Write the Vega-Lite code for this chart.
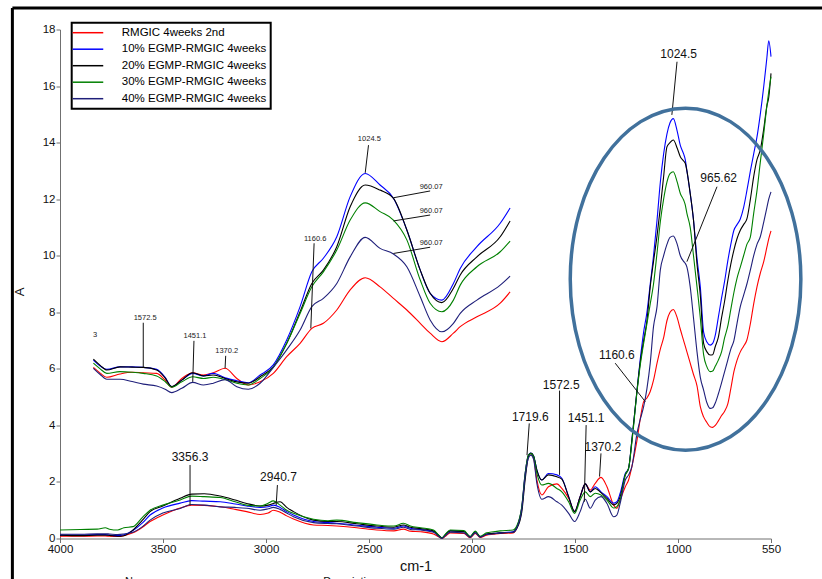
{
  "$schema": "https://vega.github.io/schema/vega-lite/v6.json",
  "width": 711,
  "height": 509,
  "autosize": {"type": "none"},
  "padding": {"left": 60, "top": 29.5, "right": 51, "bottom": 40.5},
  "background": "white",
  "config": {
    "view": {"stroke": null},
    "axis": {"grid": false, "labelFont": "Liberation Sans", "labelFontSize": 11.5, "labelColor": "#111", "domainColor": "#707070", "tickColor": "#707070", "tickSize": 4, "titleFont": "Liberation Sans", "titleFontWeight": "normal", "titleColor": "#111", "labelPadding": 1},
    "legend": {"strokeWidth": 2}
  },
  "datasets": {
    "main": [
      {"w":4000,"r":0.08,"b":0.12,"k":0.12,"g":0.30,"n":0.15},
      {"w":3900,"r":0.08,"b":0.12,"k":0.10,"g":0.32,"n":0.15},
      {"w":3820,"r":0.09,"b":0.14,"k":0.12,"g":0.33,"n":0.17},
      {"w":3780,"r":0.09,"b":0.14,"k":0.12,"g":0.38,"n":0.17},
      {"w":3760,"r":0.08,"b":0.12,"k":0.11,"g":0.33,"n":0.16},
      {"w":3720,"r":0.07,"b":0.10,"k":0.08,"g":0.30,"n":0.14},
      {"w":3690,"r":0.10,"b":0.13,"k":0.10,"g":0.38,"n":0.16},
      {"w":3646,"r":0.20,"b":0.28,"k":0.30,"g":0.42,"n":0.22},
      {"w":3600,"r":0.40,"b":0.55,"k":0.65,"g":0.75,"n":0.42},
      {"w":3563,"r":0.60,"b":0.83,"k":0.95,"g":1.00,"n":0.65},
      {"w":3501,"r":0.83,"b":1.08,"k":1.15,"g":1.18,"n":0.90},
      {"w":3417,"r":1.08,"b":1.25,"k":1.42,"g":1.36,"n":1.06},
      {"w":3361,"r":1.18,"b":1.34,"k":1.57,"g":1.50,"n":1.20},
      {"w":3300,"r":1.17,"b":1.32,"k":1.58,"g":1.48,"n":1.18},
      {"w":3223,"r":1.12,"b":1.30,"k":1.50,"g":1.45,"n":1.12},
      {"w":3150,"r":1.03,"b":1.22,"k":1.36,"g":1.30,"n":1.10},
      {"w":3094,"r":0.95,"b":1.15,"k":1.24,"g":1.18,"n":1.07},
      {"w":3029,"r":0.85,"b":1.10,"k":1.15,"g":1.15,"n":1.00},
      {"w":2990,"r":0.90,"b":1.12,"k":1.18,"g":1.25,"n":1.05},
      {"w":2965,"r":1.00,"b":1.18,"k":1.24,"g":1.33,"n":1.10},
      {"w":2932,"r":0.93,"b":1.10,"k":1.30,"g":1.18,"n":1.03},
      {"w":2900,"r":0.80,"b":0.95,"k":1.10,"g":1.00,"n":0.90},
      {"w":2867,"r":0.69,"b":0.83,"k":0.95,"g":0.89,"n":0.77},
      {"w":2770,"r":0.48,"b":0.60,"k":0.65,"g":0.68,"n":0.56},
      {"w":2700,"r":0.46,"b":0.56,"k":0.60,"g":0.63,"n":0.53},
      {"w":2657,"r":0.44,"b":0.54,"k":0.60,"g":0.65,"n":0.52},
      {"w":2560,"r":0.38,"b":0.47,"k":0.52,"g":0.56,"n":0.44},
      {"w":2463,"r":0.30,"b":0.40,"k":0.44,"g":0.48,"n":0.36},
      {"w":2380,"r":0.27,"b":0.36,"k":0.40,"g":0.44,"n":0.33},
      {"w":2333,"r":0.33,"b":0.44,"k":0.48,"g":0.54,"n":0.40},
      {"w":2300,"r":0.26,"b":0.36,"k":0.40,"g":0.44,"n":0.32},
      {"w":2250,"r":0.24,"b":0.32,"k":0.35,"g":0.38,"n":0.30},
      {"w":2188,"r":0.16,"b":0.25,"k":0.27,"g":0.30,"n":0.22},
      {"w":2160,"r":0.05,"b":0.08,"k":0.10,"g":0.10,"n":0.06},
      {"w":2147,"r":0.00,"b":0.02,"k":0.02,"g":0.02,"n":0.00},
      {"w":2130,"r":0.08,"b":0.12,"k":0.14,"g":0.15,"n":0.10},
      {"w":2107,"r":0.20,"b":0.27,"k":0.27,"g":0.30,"n":0.22},
      {"w":2040,"r":0.18,"b":0.25,"k":0.25,"g":0.28,"n":0.20},
      {"w":2010,"r":0.03,"b":0.06,"k":0.06,"g":0.07,"n":0.04},
      {"w":1985,"r":0.18,"b":0.24,"k":0.24,"g":0.26,"n":0.20},
      {"w":1961,"r":0.04,"b":0.06,"k":0.06,"g":0.08,"n":0.05},
      {"w":1930,"r":0.12,"b":0.16,"k":0.16,"g":0.20,"n":0.14},
      {"w":1897,"r":0.15,"b":0.18,"k":0.18,"g":0.24,"n":0.16},
      {"w":1864,"r":0.18,"b":0.20,"k":0.20,"g":0.27,"n":0.20},
      {"w":1801,"r":0.20,"b":0.24,"k":0.22,"g":0.30,"n":0.22},
      {"w":1783,"r":0.40,"b":0.42,"k":0.36,"g":0.45,"n":0.38},
      {"w":1759,"r":1.10,"b":1.12,"k":0.95,"g":1.15,"n":1.05},
      {"w":1743,"r":2.25,"b":2.30,"k":2.07,"g":2.30,"n":2.20},
      {"w":1727,"r":2.95,"b":2.95,"k":2.90,"g":2.95,"n":2.85},
      {"w":1715,"r":3.00,"b":3.02,"k":3.02,"g":3.00,"n":2.95},
      {"w":1702,"r":2.85,"b":2.92,"k":2.92,"g":2.90,"n":2.80},
      {"w":1686,"r":2.07,"b":2.42,"k":2.42,"g":2.30,"n":1.95},
      {"w":1662,"r":1.54,"b":2.07,"k":2.07,"g":1.89,"n":1.39},
      {"w":1630,"r":1.83,"b":2.30,"k":2.25,"g":1.95,"n":1.48},
      {"w":1589,"r":1.93,"b":2.25,"k":2.18,"g":1.77,"n":1.30},
      {"w":1565,"r":1.77,"b":2.13,"k":2.10,"g":1.65,"n":1.18},
      {"w":1532,"r":1.42,"b":1.48,"k":1.48,"g":1.30,"n":0.89},
      {"w":1503,"r":0.95,"b":0.95,"k":0.95,"g":0.89,"n":0.60},
      {"w":1476,"r":1.48,"b":1.48,"k":1.48,"g":1.36,"n":0.95},
      {"w":1451,"r":1.93,"b":1.93,"k":1.93,"g":1.65,"n":1.39},
      {"w":1427,"r":1.71,"b":1.65,"k":1.65,"g":1.48,"n":1.07},
      {"w":1403,"r":1.95,"b":1.83,"k":1.77,"g":1.60,"n":1.36},
      {"w":1375,"r":2.16,"b":1.65,"k":1.62,"g":1.54,"n":1.48},
      {"w":1346,"r":1.83,"b":1.48,"k":1.42,"g":1.36,"n":1.24},
      {"w":1314,"r":1.19,"b":1.25,"k":1.19,"g":1.08,"n":0.77},
      {"w":1298,"r":1.07,"b":1.30,"k":1.24,"g":1.13,"n":0.83},
      {"w":1282,"r":1.36,"b":1.60,"k":1.48,"g":1.36,"n":1.24},
      {"w":1257,"r":1.83,"b":2.30,"k":2.25,"g":2.25,"n":2.07},
      {"w":1241,"r":2.07,"b":2.48,"k":2.48,"g":2.48,"n":2.25},
      {"w":1225,"r":2.54,"b":3.48,"k":3.48,"g":3.40,"n":2.54},
      {"w":1200,"r":3.48,"b":5.25,"k":5.25,"g":5.20,"n":3.73},
      {"w":1185,"r":4.20,"b":6.30,"k":6.20,"g":6.10,"n":4.20},
      {"w":1168,"r":4.84,"b":7.30,"k":7.00,"g":6.90,"n":4.66},
      {"w":1152,"r":4.97,"b":8.00,"k":7.70,"g":7.60,"n":5.30},
      {"w":1136,"r":5.20,"b":9.00,"k":8.90,"g":8.30,"n":6.20},
      {"w":1120,"r":5.60,"b":10.00,"k":9.80,"g":9.00,"n":7.50},
      {"w":1103,"r":6.20,"b":11.26,"k":10.70,"g":10.10,"n":8.20},
      {"w":1087,"r":6.70,"b":12.60,"k":11.70,"g":11.20,"n":9.50},
      {"w":1071,"r":7.10,"b":13.60,"k":12.80,"g":12.00,"n":10.00},
      {"w":1055,"r":7.70,"b":14.30,"k":13.85,"g":12.60,"n":10.40},
      {"w":1040,"r":8.00,"b":14.70,"k":14.00,"g":12.90,"n":10.65},
      {"w":1024,"r":8.10,"b":14.85,"k":14.09,"g":12.97,"n":10.70},
      {"w":1005,"r":7.80,"b":14.40,"k":13.80,"g":12.60,"n":10.40},
      {"w":990,"r":7.40,"b":13.90,"k":13.50,"g":12.20,"n":10.00},
      {"w":974,"r":7.00,"b":13.60,"k":13.35,"g":11.97,"n":9.80},
      {"w":966,"r":6.80,"b":13.40,"k":13.27,"g":11.80,"n":9.73},
      {"w":958,"r":6.60,"b":13.00,"k":13.00,"g":11.50,"n":9.60},
      {"w":942,"r":6.20,"b":12.20,"k":12.20,"g":11.00,"n":8.90},
      {"w":926,"r":5.80,"b":11.26,"k":11.26,"g":10.00,"n":7.80},
      {"w":909,"r":5.40,"b":9.90,"k":9.70,"g":8.90,"n":6.60},
      {"w":893,"r":4.66,"b":8.90,"k":8.60,"g":7.80,"n":5.70},
      {"w":877,"r":4.30,"b":7.30,"k":6.90,"g":6.50,"n":5.25},
      {"w":861,"r":4.10,"b":6.95,"k":6.60,"g":6.07,"n":4.80},
      {"w":845,"r":3.95,"b":6.84,"k":6.49,"g":5.90,"n":4.60},
      {"w":833,"r":3.93,"b":6.90,"k":6.50,"g":5.92,"n":4.62},
      {"w":820,"r":4.00,"b":7.20,"k":6.80,"g":6.10,"n":4.80},
      {"w":806,"r":4.15,"b":7.80,"k":7.10,"g":6.30,"n":5.10},
      {"w":790,"r":4.35,"b":8.50,"k":7.80,"g":6.60,"n":5.50},
      {"w":775,"r":4.50,"b":9.10,"k":8.40,"g":7.10,"n":5.90},
      {"w":760,"r":4.75,"b":9.80,"k":9.10,"g":7.50,"n":6.30},
      {"w":745,"r":5.30,"b":10.40,"k":9.70,"g":8.10,"n":6.70},
      {"w":730,"r":5.90,"b":10.90,"k":10.20,"g":8.70,"n":7.00},
      {"w":715,"r":6.30,"b":11.10,"k":10.60,"g":9.20,"n":7.60},
      {"w":699,"r":6.60,"b":11.30,"k":10.90,"g":9.60,"n":8.20},
      {"w":683,"r":6.80,"b":11.70,"k":11.10,"g":10.00,"n":8.60},
      {"w":667,"r":7.02,"b":12.30,"k":11.30,"g":10.40,"n":9.00},
      {"w":650,"r":7.60,"b":13.00,"k":12.00,"g":10.67,"n":9.50},
      {"w":634,"r":8.30,"b":13.60,"k":12.80,"g":11.50,"n":10.00},
      {"w":618,"r":8.90,"b":14.20,"k":13.40,"g":12.30,"n":10.40},
      {"w":602,"r":9.38,"b":15.00,"k":13.74,"g":13.30,"n":10.67},
      {"w":585,"r":9.80,"b":16.00,"k":14.50,"g":14.33,"n":11.20},
      {"w":570,"r":10.30,"b":17.00,"k":15.30,"g":15.30,"n":11.70},
      {"w":561,"r":10.60,"b":17.60,"k":15.60,"g":15.80,"n":12.00},
      {"w":550,"r":10.88,"b":17.04,"k":16.45,"g":16.33,"n":12.26}
    ],
    "inset": [
      {"w":3838,"r":6.05,"b":6.31,"k":6.34,"g":6.20,"n":6.02},
      {"w":3805,"r":5.85,"b":6.10,"k":6.12,"g":6.00,"n":5.80},
      {"w":3773,"r":5.70,"b":5.98,"k":5.96,"g":5.84,"n":5.63},
      {"w":3709,"r":5.82,"b":6.07,"k":6.07,"g":5.90,"n":5.63},
      {"w":3650,"r":5.88,"b":6.07,"k":6.06,"g":5.88,"n":5.55},
      {"w":3596,"r":5.86,"b":6.05,"k":6.05,"g":5.84,"n":5.46},
      {"w":3531,"r":5.84,"b":5.98,"k":5.96,"g":5.75,"n":5.39},
      {"w":3490,"r":5.60,"b":5.70,"k":5.68,"g":5.55,"n":5.28},
      {"w":3458,"r":5.35,"b":5.37,"k":5.37,"g":5.35,"n":5.16},
      {"w":3409,"r":5.66,"b":5.60,"k":5.60,"g":5.54,"n":5.31},
      {"w":3356,"r":5.86,"b":5.84,"k":5.86,"g":5.72,"n":5.52},
      {"w":3304,"r":5.78,"b":5.75,"k":5.75,"g":5.66,"n":5.43},
      {"w":3256,"r":5.86,"b":5.84,"k":5.78,"g":5.70,"n":5.49},
      {"w":3199,"r":6.02,"b":5.68,"k":5.66,"g":5.62,"n":5.62},
      {"w":3142,"r":5.66,"b":5.58,"k":5.54,"g":5.49,"n":5.37},
      {"w":3086,"r":5.43,"b":5.51,"k":5.49,"g":5.43,"n":5.28},
      {"w":3029,"r":5.54,"b":5.78,"k":5.72,"g":5.66,"n":5.49},
      {"w":2965,"r":5.84,"b":6.14,"k":6.07,"g":6.05,"n":6.05},
      {"w":2900,"r":6.43,"b":7.02,"k":6.90,"g":6.90,"n":6.67},
      {"w":2835,"r":6.90,"b":8.20,"k":8.02,"g":7.96,"n":7.37},
      {"w":2778,"r":7.43,"b":9.43,"k":9.02,"g":8.90,"n":8.20},
      {"w":2722,"r":7.61,"b":9.91,"k":9.49,"g":9.43,"n":8.49},
      {"w":2657,"r":8.08,"b":10.67,"k":10.32,"g":10.20,"n":9.02},
      {"w":2592,"r":8.79,"b":12.09,"k":11.73,"g":11.26,"n":9.96},
      {"w":2519,"r":9.22,"b":12.91,"k":12.50,"g":11.87,"n":10.65},
      {"w":2447,"r":8.90,"b":12.50,"k":12.32,"g":11.56,"n":10.26},
      {"w":2382,"r":8.49,"b":12.03,"k":12.03,"g":11.26,"n":10.06},
      {"w":2317,"r":8.08,"b":10.91,"k":10.91,"g":10.56,"n":9.61},
      {"w":2252,"r":7.61,"b":9.49,"k":9.49,"g":9.14,"n":8.55},
      {"w":2204,"r":7.26,"b":8.67,"k":8.67,"g":8.32,"n":7.73},
      {"w":2147,"r":6.96,"b":8.43,"k":8.34,"g":8.02,"n":7.31},
      {"w":2091,"r":7.26,"b":9.02,"k":8.85,"g":8.43,"n":7.61},
      {"w":2058,"r":7.49,"b":9.55,"k":9.32,"g":8.96,"n":7.96},
      {"w":1977,"r":7.84,"b":10.32,"k":9.96,"g":9.61,"n":8.43},
      {"w":1864,"r":8.32,"b":11.15,"k":10.67,"g":10.14,"n":8.96},
      {"w":1816,"r":8.72,"b":11.69,"k":11.23,"g":10.52,"n":9.28}
    ],
    "mainLabels": [
      {"w":3369,"a":2.89,"t":"3356.3"},
      {"w":2940,"a":2.19,"t":"2940.7"},
      {"w":1718,"a":4.30,"t":"1719.6"},
      {"w":1568,"a":5.43,"t":"1572.5"},
      {"w":1447,"a":4.25,"t":"1451.1"},
      {"w":1366,"a":3.25,"t":"1370.2"},
      {"w":1298,"a":6.49,"t":"1160.6"},
      {"w":998,"a":17.12,"t":"1024.5"},
      {"w":804,"a":12.74,"t":"965.62"}
    ],
    "insetLabels": [
      {"w":2499,"a":14.13,"t":"1024.5"},
      {"w":2199,"a":12.42,"t":"960.07"},
      {"w":2199,"a":11.58,"t":"960.07"},
      {"w":2199,"a":10.44,"t":"960.07"},
      {"w":2762,"a":10.58,"t":"1160.6"},
      {"w":3587,"a":7.79,"t":"1572.5"},
      {"w":3345,"a":7.16,"t":"1451.1"},
      {"w":3191,"a":6.63,"t":"1370.2"},
      {"w":3830,"a":7.20,"t":"3"}
    ],
    "leaders": [
      {"w":3369,"w2":3369,"a":2.60,"a2":1.18},
      {"w":2945,"w2":2951,"a":1.89,"a2":1.18},
      {"w":1723,"w2":1734,"a":4.07,"a2":2.95},
      {"w":1576,"w2":1576,"a":5.23,"a2":2.25},
      {"w":1447,"w2":1456,"a":4.01,"a2":1.30},
      {"w":1375,"w2":1382,"a":3.01,"a2":2.19},
      {"w":1306,"w2":1160,"a":6.20,"a2":4.84},
      {"w":1006,"w2":1031,"a":16.86,"a2":14.98},
      {"w":812,"w2":958,"a":12.44,"a2":9.79},
      {"w":2503,"w2":2519,"a":13.91,"a2":12.93},
      {"w":2204,"w2":2382,"a":12.29,"a2":12.05},
      {"w":2204,"w2":2382,"a":11.44,"a2":11.23},
      {"w":2204,"w2":2382,"a":10.30,"a2":10.08},
      {"w":2767,"w2":2783,"a":10.44,"a2":7.43},
      {"w":3596,"w2":3596,"a":7.63,"a2":6.05},
      {"w":3350,"w2":3356,"a":6.99,"a2":5.54},
      {"w":3196,"w2":3199,"a":6.46,"a2":6.02}
    ],
    "frame": [
      {"w":4231,"w2":4231,"a":18.76,"a2":-3},
      {"w":4231,"w2":100,"a":18.76,"a2":18.76}
    ],
    "cut": [
      {"w":3684,"a":-1.31,"t":"Name"},
      {"w":2723,"a":-1.31,"t":"Description"}
    ],
    "circle": [
      {"w":964.6,"a":9.17}
    ]
  },
  "layer": [
    {
      "data": {"name": "frame"},
      "mark": {"type": "rule", "color": "black", "strokeWidth": 3},
      "encoding": {
        "x": {"field": "w", "type": "quantitative", "title": "cm-1"},
        "x2": {"field": "w2"},
        "y": {"field": "a", "type": "quantitative", "title": "A"},
        "y2": {"field": "a2"}
      }
    },
    {
      "data": {"name": "main"},
      "transform": [{"fold": ["r", "b", "k", "g", "n"], "as": ["s", "v"]}],
      "mark": {"type": "line", "interpolate": "monotone", "strokeWidth": 1.1},
      "encoding": {
        "x": {"field": "w", "type": "quantitative", "scale": {"domain": [550, 4000], "reverse": true, "nice": false, "zero": false},
              "axis": {"values": [4000, 3500, 3000, 2500, 2000, 1500, 1000, 550], "format": "d", "title": "cm-1", "titleFontSize": 14.5, "titlePadding": 4, "labelFlush": false}},
        "y": {"field": "v", "type": "quantitative", "scale": {"domain": [0, 18], "nice": false, "zero": false},
              "axis": {"values": [0, 2, 4, 6, 8, 10, 12, 14, 16, 18], "title": "A", "titleFontSize": 13, "titlePadding": 16, "titleY": 262}},
        "color": {"field": "s", "type": "nominal",
                  "scale": {"domain": ["r", "b", "k", "g", "n"], "range": ["#ff0000", "#0000ff", "#000000", "#008000", "#1f1f7a"]},
                  "legend": {"orient": "none", "legendX": 11.7, "legendY": -6.8, "title": null,
                             "symbolType": "M -3.06 0 H 3.06", "symbolSize": 100, "symbolStrokeWidth": 1.5,
                             "symbolOffset": 6.25, "labelOffset": 27.8, "rowPadding": 4.5, "padding": 4,
                             "strokeColor": "black", "labelFont": "Liberation Sans", "labelFontSize": 11.5, "labelColor": "black",
                             "labelExpr": "{'r':'RMGIC 4weeks 2nd','b':'10% EGMP-RMGIC 4weeks','k':'20% EGMP-RMGIC 4weeks','g':'30% EGMP-RMGIC 4weeks','n':'40% EGMP-RMGIC 4weeks'}[datum.label]"}}
      }
    },
    {
      "data": {"name": "inset"},
      "transform": [{"fold": ["r", "b", "k", "g", "n"], "as": ["s", "v"]}],
      "mark": {"type": "line", "interpolate": "monotone", "strokeWidth": 1.1},
      "encoding": {
        "x": {"field": "w", "type": "quantitative", "title": "cm-1"},
        "y": {"field": "v", "type": "quantitative", "title": "A"},
        "color": {"field": "s", "type": "nominal"}
      }
    },
    {
      "data": {"name": "leaders"},
      "mark": {"type": "rule", "color": "#111", "strokeWidth": 1},
      "encoding": {
        "x": {"field": "w", "type": "quantitative", "title": "cm-1"},
        "x2": {"field": "w2"},
        "y": {"field": "a", "type": "quantitative", "title": "A"},
        "y2": {"field": "a2"}
      }
    },
    {
      "data": {"name": "mainLabels"},
      "mark": {"type": "text", "font": "Liberation Sans", "fontSize": 12, "color": "#111", "baseline": "middle", "align": "center"},
      "encoding": {
        "x": {"field": "w", "type": "quantitative", "title": "cm-1"},
        "y": {"field": "a", "type": "quantitative", "title": "A"},
        "text": {"field": "t"}
      }
    },
    {
      "data": {"name": "insetLabels"},
      "mark": {"type": "text", "font": "Liberation Sans", "fontSize": 7.5, "color": "#222", "baseline": "middle", "align": "center"},
      "encoding": {
        "x": {"field": "w", "type": "quantitative", "title": "cm-1"},
        "y": {"field": "a", "type": "quantitative", "title": "A"},
        "text": {"field": "t"}
      }
    },
    {
      "data": {"name": "cut"},
      "mark": {"type": "text", "font": "Liberation Sans", "fontSize": 11, "color": "#111", "baseline": "top", "align": "left"},
      "encoding": {
        "x": {"field": "w", "type": "quantitative", "title": "cm-1"},
        "y": {"field": "a", "type": "quantitative", "title": "A"},
        "text": {"field": "t"}
      }
    },
    {
      "data": {"name": "circle"},
      "mark": {"type": "point", "shape": "M 1 0 C 1 0.819 0.5523 1.483 0 1.483 C -0.5523 1.483 -1 0.819 -1 0 C -1 -0.819 -0.5523 -1.483 0 -1.483 C 0.5523 -1.483 1 -0.819 1 0 Z",
               "size": 53176, "filled": false, "stroke": "#41719C", "strokeWidth": 3.5, "opacity": 1},
      "encoding": {
        "x": {"field": "w", "type": "quantitative", "title": "cm-1"},
        "y": {"field": "a", "type": "quantitative", "title": "A"}
      }
    }
  ]
}
